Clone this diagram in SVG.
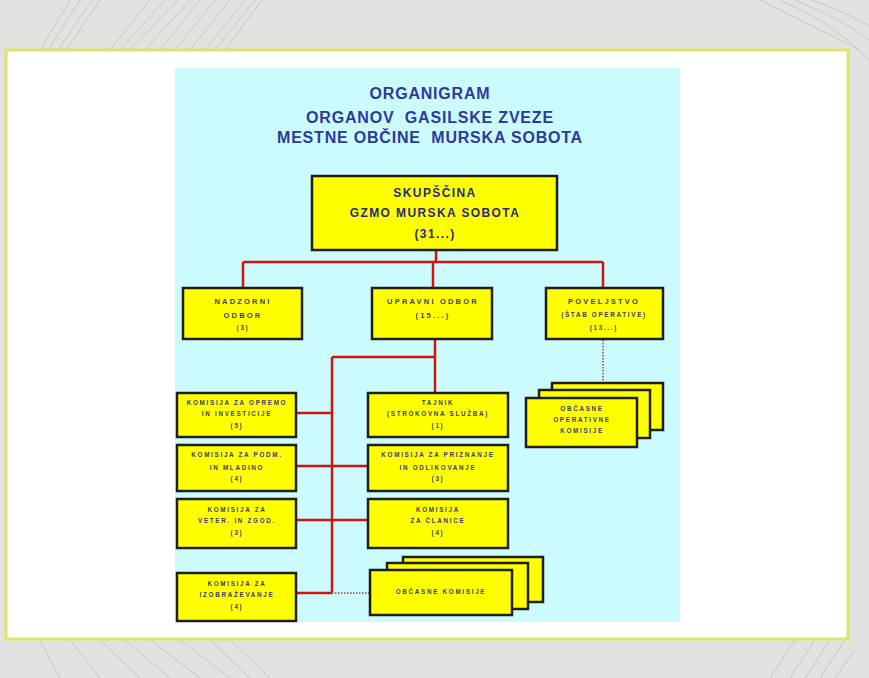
<svg xmlns="http://www.w3.org/2000/svg" width="869" height="678" viewBox="0 0 869 678">
<style>
.bgl{fill:none;stroke:#b4b4b2;stroke-width:0.8;opacity:0.7}
.box{fill:#ffff00;stroke:#1e1e1a;stroke-width:2.5}
.ttl{font-family:"Liberation Sans",Arial,sans-serif;font-weight:bold;font-size:16px;fill:#2b3a9c;text-anchor:middle;letter-spacing:0.8px;white-space:pre}
.big{font-family:"Liberation Sans",Arial,sans-serif;font-weight:bold;font-size:12px;fill:#2a2a80;text-anchor:middle;letter-spacing:1.4px}
.mid{font-family:"Liberation Sans",Arial,sans-serif;font-weight:bold;font-size:7.5px;fill:#3c3c70;text-anchor:middle;letter-spacing:2.2px}
.sm{font-family:"Liberation Sans",Arial,sans-serif;font-weight:bold;font-size:6.3px;fill:#3c3c70;text-anchor:middle;letter-spacing:1.7px}
.red{fill:none;stroke:#d01414;stroke-width:2.5}
.dot{fill:none;stroke:#a07474;stroke-width:2;stroke-dasharray:1.5 1.5}
</style>
<rect width="869" height="678" fill="#e2e2e0"/>
<g id="background-texture">
<path class="bgl" d="M40 50 L70 0 M48 50 L80 0 M58 50 L92 0 M66 50 L100 0"/>
<path class="bgl" d="M110 50 L150 0 M120 50 L165 0 M130 50 L178 0 M145 50 L190 0 M160 50 L200 0 M175 50 L215 0 M190 50 L230 0 M205 50 L245 0 M215 50 L255 0 M225 50 L262 0"/>
<path class="bgl" d="M780 0 Q830 20 869 60 M795 0 Q840 18 869 40 M812 0 Q850 14 869 26 M760 0 Q820 30 860 50"/>
<path class="bgl" d="M40 640 L60 678 M70 640 L100 678 M100 640 L140 678 M125 640 L170 678 M150 640 L200 678 M180 640 L230 678 M210 640 L250 678 M230 640 L270 678"/>
<path class="bgl" d="M770 678 L795 640 M790 678 L815 640 M805 678 L830 640 M820 678 L845 640 M835 678 L855 650"/>
</g>
<rect x="6" y="50" width="842" height="589" fill="#ffffff" stroke="#dfe36a" stroke-width="3"/>
<rect x="175" y="68" width="505" height="554" fill="#ccfbfd"/>
<g id="title">
<text class="ttl" x="430" y="99">ORGANIGRAM</text>
<text class="ttl" x="430" y="123">ORGANOV  GASILSKE ZVEZE</text>
<text class="ttl" x="430" y="143">MESTNE OBČINE  MURSKA SOBOTA</text>
</g>
<g id="connectors">
<path class="red" d="M436 250 V262 M243 262 H603 M243 262 V288 M433 262 V288 M603 262 V288"/>
<path class="red" d="M435 340 V393 M332 357 H435 M332 357 V593"/>
<path class="red" d="M296 413 H332 M296 466 H368 M296 520 H368 M296 593 H332"/>
<path class="dot" d="M603 340 V383 M332 593 H370"/>
</g>
<g id="skupscina">
<rect class="box" x="312" y="176" width="245" height="74"/>
<text class="big" x="435" y="197">SKUPŠČINA</text>
<text class="big" x="435" y="217">GZMO MURSKA SOBOTA</text>
<text class="big" x="435" y="238">(31...)</text>
</g>
<g id="nadzorni-odbor">
<rect class="box" x="183" y="288" width="119" height="51"/>
<text class="mid" x="243" y="304">NADZORNI</text>
<text class="mid" x="243" y="318">ODBOR</text>
<text class="sm" x="243" y="330">(3)</text>
</g>
<g id="upravni-odbor">
<rect class="box" x="372" y="288" width="120" height="51"/>
<text class="mid" x="433" y="304">UPRAVNI ODBOR</text>
<text class="mid" x="433" y="318">(15...)</text>
</g>
<g id="poveljstvo">
<rect class="box" x="546" y="288" width="117" height="51"/>
<text class="mid" x="604" y="304">POVELJSTVO</text>
<text class="sm" x="604" y="317">(ŠTAB OPERATIVE)</text>
<text class="sm" x="604" y="330">(13...)</text>
</g>
<g id="obcasne-operativne-komisije">
<rect class="box" x="552" y="383" width="111" height="47"/>
<rect class="box" x="539" y="390" width="111" height="48"/>
<rect class="box" x="526" y="398" width="111" height="49"/>
<text class="sm" x="582" y="411">OBČASNE</text>
<text class="sm" x="582" y="422">OPERATIVNE</text>
<text class="sm" x="582" y="433">KOMISIJE</text>
</g>
<g id="komisija-opremo">
<rect class="box" x="177" y="393" width="119" height="44"/>
<text class="sm" x="237" y="405">KOMISIJA ZA OPREMO</text>
<text class="sm" x="237" y="416">IN INVESTICIJE</text>
<text class="sm" x="237" y="428">(5)</text>
</g>
<g id="tajnik">
<rect class="box" x="368" y="393" width="140" height="44"/>
<text class="sm" x="438" y="405">TAJNIK</text>
<text class="sm" x="438" y="416">(STROKOVNA SLUŽBA)</text>
<text class="sm" x="438" y="428">(1)</text>
</g>
<g id="komisija-podm">
<rect class="box" x="177" y="445" width="119" height="46"/>
<text class="sm" x="237" y="457">KOMISIJA ZA PODM.</text>
<text class="sm" x="237" y="470">IN MLADINO</text>
<text class="sm" x="237" y="481">(4)</text>
</g>
<g id="komisija-priznanje">
<rect class="box" x="368" y="445" width="140" height="46"/>
<text class="sm" x="438" y="457">KOMISIJA  ZA PRIZNANJE</text>
<text class="sm" x="438" y="470">IN ODLIKOVANJE</text>
<text class="sm" x="438" y="481">(3)</text>
</g>
<g id="komisija-veteranov">
<rect class="box" x="177" y="499" width="119" height="49"/>
<text class="sm" x="237" y="512">KOMISIJA ZA</text>
<text class="sm" x="237" y="523">VETER. IN ZGOD.</text>
<text class="sm" x="237" y="535">(3)</text>
</g>
<g id="komisija-clanice">
<rect class="box" x="368" y="499" width="140" height="49"/>
<text class="sm" x="438" y="512">KOMISIJA</text>
<text class="sm" x="438" y="523">ZA ČLANICE</text>
<text class="sm" x="438" y="535">(4)</text>
</g>
<g id="komisija-izobrazevanje">
<rect class="box" x="177" y="573" width="119" height="48"/>
<text class="sm" x="237" y="586">KOMISIJA  ZA</text>
<text class="sm" x="237" y="597">IZOBRAŽEVANJE</text>
<text class="sm" x="237" y="609">(4)</text>
</g>
<g id="obcasne-komisije">
<rect class="box" x="403" y="557" width="140" height="45"/>
<rect class="box" x="387" y="563" width="141" height="46"/>
<rect class="box" x="370" y="570" width="142" height="45"/>
<text class="sm" x="441" y="594">OBČASNE KOMISIJE</text>
</g>
</svg>
